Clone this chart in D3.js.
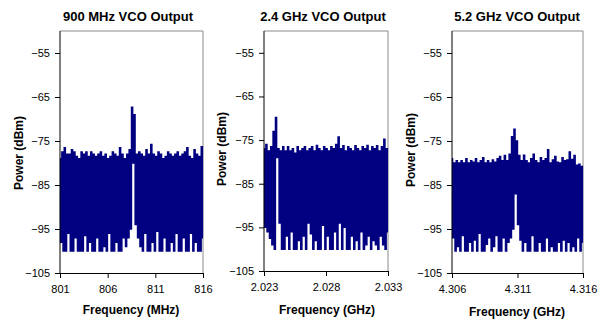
<!DOCTYPE html>
<html>
<head>
<meta charset="utf-8">
<script src="https://cdn.jsdelivr.net/npm/d3@7"></script>
<style>
  body { margin: 0; background: #fff; }
  svg { display: block; font-family: "Liberation Sans", Arial, sans-serif; }
  .tick text { font-size: 11px; fill: #000; }
  .domain, .tick line { stroke: #000; }
</style>
</head>
<body>
<script>
// tick labels
const powerTicks = [-105, -95, -85, -75, -65, -55];
const ticks900 = [801, 806, 811, 816];
const ticks24 = [2.023, 2.028, 2.033];
const ticks52 = [4.306, 4.311, 4.316];

// spectrum: alternating sweep maxima / minima (dBm)
const hi900 = [-79, -77.5, -76.5, -78, -78, -77, -77.5, -78.5, -79, -77.5, -78, -77.5, -78.5, -77.5, -78, -78.5, -78, -77.5, -78.5, -78,
  -79, -78.5, -77.5, -78, -78.5, -76.5, -78, -79, -78, -77, -67.3, -69, -78, -77.5, -78, -78.5, -77, -78, -75.8, -78,
  -78.5, -77.5, -78, -79, -78.5, -77.5, -78, -78.5, -78, -77.5, -78.5, -78, -77.5, -76.5, -78.5, -79, -77, -78, -78.5, -76.3];
const lo900 = [-98, -100, -100, -96, -100, -100, -97, -100, -100, -100, -96.5, -100, -98, -100, -100, -97, -100, -100, -99, -100,
  -96, -100, -100, -98, -100, -100, -97, -99, -97, -95, -80, -94, -97, -99, -100, -96, -100, -100, -98, -100,
  -95.5, -100, -100, -97, -100, -100, -98, -100, -96, -100, -100, -97, -100, -100, -96, -100, -98, -100, -100, -97];

const hi24 = [-77, -76, -77.5, -76.5, -73, -69.8, -77, -77.5, -76.5, -77.5, -76.5, -77.5, -77, -78, -76.5, -77.5, -77, -76.5, -77.5, -77,
  -76.5, -77.5, -76.2, -77, -77.5, -76.5, -77, -77.5, -76.5, -77, -76, -74.3, -77, -76.3, -77.5, -76.5, -77, -77.5, -76.3, -77,
  -77.5, -76.5, -77, -76.2, -77.5, -76.5, -77, -76.3, -77.5, -76.5, -74.8, -77];
const lo24 = [-95, -96, -97.5, -99, -100, -79, -94, -100, -100, -97, -100, -96, -100, -100, -98, -100, -97, -100, -94, -96.5,
  -100, -98, -100, -100, -94.5, -100, -97, -100, -100, -96, -100, -94, -100, -95, -100, -100, -97, -100, -98, -100,
  -96, -100, -99, -97, -100, -98, -99, -100, -97, -99, -100, -96];

const hi52 = [-79, -80, -79.5, -80, -79.5, -80, -79, -80, -79.5, -79.8, -79, -80, -79.5, -78.8, -80, -79.5, -80, -79.3, -79.8, -79,
  -78.5, -79.5, -78.3, -79.5, -78, -74, -72.3, -75, -78.3, -79.5, -78.2, -79.5, -80, -79, -78, -79.5, -80, -78.8, -79.5, -79,
  -77, -80, -79.3, -78.5, -79.8, -80, -78.8, -79.5, -79.3, -77.5, -79.2, -78.3, -80.5, -80.3, -80.8];
const lo52 = [-97, -100, -99, -100, -96.5, -100, -100, -98, -100, -97.5, -100, -96, -100, -100, -98.5, -97, -100, -99, -96.5, -100,
  -100, -97, -100, -98, -97, -95, -87, -94, -97.5, -100, -98, -100, -100, -96.5, -100, -100, -98, -100, -100, -97,
  -100, -99, -100, -100, -98, -100, -97.5, -100, -98, -100, -99, -100, -97, -100, -98];

const panels = [
  { title: '900 MHz VCO Output', xTitle: 'Frequency (MHz)', ticks: ticks900, fmt: d3.format('d'), hi: hi900, lo: lo900,
    left: 60, right: 203, top: 31, bottom: 273, titleX: 128, yTitleX: 23, yTitleY: 153, xTitleX: 131, xTitleY: 314 },
  { title: '2.4 GHz VCO Output', xTitle: 'Frequency (GHz)', ticks: ticks24, fmt: d3.format('.3f'), hi: hi24, lo: lo24,
    left: 264, right: 388, top: 31, bottom: 271, titleX: 323, yTitleX: 226, yTitleY: 149, xTitleX: 327, xTitleY: 314 },
  { title: '5.2 GHz VCO Output', xTitle: 'Frequency (GHz)', ticks: ticks52, fmt: d3.format('.3f'), hi: hi52, lo: lo52,
    left: 452, right: 583, top: 31, bottom: 273, titleX: 517, yTitleX: 415, yTitleY: 150, xTitleX: 517, xTitleY: 316 }
];

const svg = d3.select('body')
  .append('svg')
  .attr('width', 610)
  .attr('height', 323);

panels.forEach((p) => {
  const xScale = d3.scaleLinear()
    .domain(d3.extent(p.ticks))
    .range([p.left, p.right]);

  const yScale = d3.scaleLinear()
    .domain([-105, -50])
    .range([p.bottom, p.top]);

  // alternate sweep maxima and minima on an even frequency grid
  const n = p.hi.length * 2;
  const span = xScale.domain();
  const trace = [];
  p.hi.forEach((h, i) => {
    trace.push([span[0] + (span[1] - span[0]) * (2 * i) / (n - 1), h]);
    trace.push([span[0] + (span[1] - span[0]) * (2 * i + 1) / (n - 1), p.lo[i]]);
  });

  // frame (top/right in grey)
  svg.append('path')
    .attr('d', 'M' + p.left + ',' + p.top + 'H' + p.right + 'V' + p.bottom)
    .attr('fill', 'none')
    .attr('stroke', '#8a8a8a')
    .attr('stroke-width', 1);

  svg.append('path')
    .datum(trace)
    .attr('fill', 'none')
    .attr('stroke', '#000080')
    .attr('stroke-width', 1.4)
    .attr('d', d3.line()
      .curve(d3.curveStep)
      .x((d) => xScale(d[0]))
      .y((d) => yScale(d[1])));

  svg.append('g')
    .attr('transform', 'translate(' + p.left + ',0)')
    .call(d3.axisLeft(yScale).tickValues(powerTicks).tickSize(5).tickPadding(5).tickSizeOuter(0).tickFormat(d3.format('d')))
    .call((g) => g.select('.domain').attr('d', 'M0,' + p.top + 'V' + p.bottom));

  svg.append('g')
    .attr('transform', 'translate(0,' + p.bottom + ')')
    .call(d3.axisBottom(xScale).tickValues(p.ticks).tickSize(5).tickPadding(7).tickSizeOuter(0).tickFormat(p.fmt));

  svg.append('text')
    .attr('x', p.titleX)
    .attr('y', 21)
    .style('font-size', '13px')
    .style('font-weight', 'bold')
    .style('text-anchor', 'middle')
    .text(p.title);

  svg.append('text')
    .attr('x', p.xTitleX)
    .attr('y', p.xTitleY)
    .style('font-size', '12px')
    .style('font-weight', 'bold')
    .style('text-anchor', 'middle')
    .text(p.xTitle);

  svg.append('text')
    .attr('transform', 'translate(' + p.yTitleX + ',' + p.yTitleY + ') rotate(-90)')
    .style('font-size', '12px')
    .style('font-weight', 'bold')
    .style('text-anchor', 'middle')
    .text('Power (dBm)');
});
</script>
</body>
</html>
